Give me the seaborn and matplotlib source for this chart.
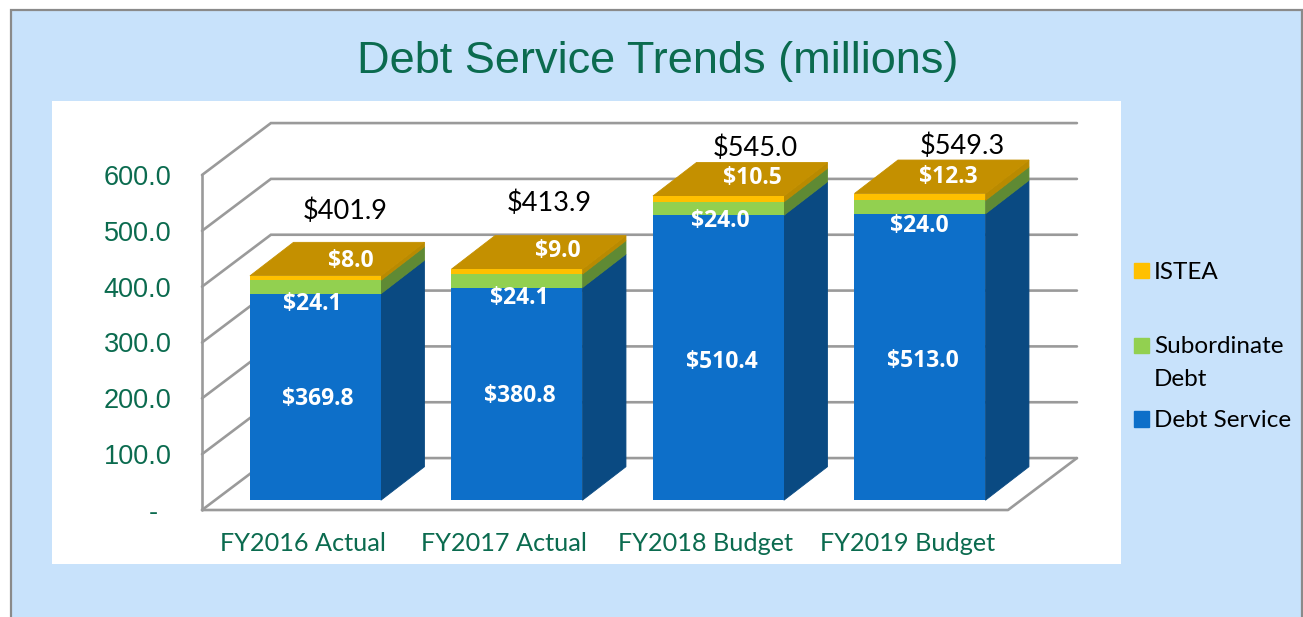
import numpy as np
import pandas as pd
import matplotlib
matplotlib.use("Agg")
import matplotlib.pyplot as plt
from matplotlib.patches import Rectangle, Polygon, Patch
from matplotlib.legend_handler import HandlerPatch
import seaborn as sns

# ---- data ----
categories = ["FY2016 Actual", "FY2017 Actual", "FY2018 Budget", "FY2019 Budget"]
debt_service = [369.8, 380.8, 510.4, 513.0]
subordinate = [24.1, 24.1, 24.0, 24.0]
istea = [8.0, 9.0, 10.5, 12.3]
totals = [401.9, 413.9, 545.0, 549.3]
y_ticks = [0, 100, 200, 300, 400, 500, 600]
y_tick_labels = ["- \u2009", "100.0", "200.0", "300.0", "400.0", "500.0", "600.0"]

# ---- styles ----
BG = "#C8E2FB"
GREEN_TXT = "#0B6B4F"
GRID = "#9A9A9A"
front_cols = ["#0D6FC9", "#92D050", "#FFC000"]
side_cols = ["#0A4A82", "#5F8A34", "#B98A00"]
top_col = "#C49000"
W, H = 1303, 617

sns.set_style("white")
plt.rcParams["font.family"] = ["Lato", "DejaVu Sans"]

fig = plt.figure(figsize=(W / 100, H / 100), dpi=100, facecolor="white")


def fx(p):
    return p / W


def fy(p):
    return 1 - p / H


# background frame and white panel
fig.add_artist(Rectangle((fx(11), fy(640)), fx(1291), (640 - 10) / H, transform=fig.transFigure,
                         facecolor=BG, edgecolor="#8A8A8A", linewidth=1.6, zorder=-5))
fig.add_artist(Rectangle((fx(52), fy(564)), fx(1069), (564 - 101) / H, transform=fig.transFigure,
                         facecolor="white", edgecolor="none", zorder=-4))

fig.text(fx(657.5), fy(62), "Debt Service Trends (millions)", ha="center", va="center",
         color=GREEN_TXT, fontsize=32.5, family=["Liberation Sans", "DejaVu Sans"])

# axes frame = front plane of the 3-D box
ax = fig.add_axes([fx(202), fy(510), (1008 - 202) / W, (510 - 175) / H])
ax.patch.set_alpha(0)
ax.set_xlim(-0.5, 3.5)
ax.set_ylim(0, 600)

# depth in data units
WALL_DX, WALL_DY = 0.342, 93.0
BAR_SHIFT_X, BAR_SHIFT_Y = 0.063, 17.5
BAR_DX, BAR_DY = 0.216, 60.0

# walls
for v in y_ticks:
    ax.plot([-0.5, -0.5 + WALL_DX, 3.5 + WALL_DX], [v, v + WALL_DY, v + WALL_DY],
            color=GRID, lw=1.9, clip_on=False, zorder=0.5, solid_joinstyle="miter")
ax.plot([-0.5, -0.5], [0, 600], color=GRID, lw=1.9, clip_on=False, zorder=0.5)
ax.plot([-0.5, 3.5, 3.5 + WALL_DX], [0, 0, WALL_DY], color=GRID, lw=1.9, clip_on=False, zorder=0.5)

# stacked front faces through seaborn
pos = np.arange(len(categories)) + BAR_SHIFT_X
series = [debt_service, subordinate, istea]
cum = np.full(len(categories), BAR_SHIFT_Y)
bottoms = []
for vals, col in zip(series, front_cols):
    vals = np.array(vals)
    df = pd.DataFrame({"x": pos, "y": vals})
    n_before = len(ax.patches)
    sns.barplot(data=df, x="x", y="y", native_scale=True, width=0.65, color=col, saturation=1,
                bottom=cum, ax=ax, errorbar=None, linewidth=0, clip_on=False)
    for p in ax.patches[n_before:]:
        p.set_clip_on(False)
        p.set_zorder(3)
    bottoms.append(cum.copy())
    cum = cum + vals

# side and top faces derived from bar patches
patches = list(ax.patches)
n = len(categories)
for s in range(3):
    for i in range(n):
        p = patches[s * n + i]
        xr = p.get_x() + p.get_width()
        b, t = p.get_y(), p.get_y() + p.get_height()
        ax.add_patch(Polygon([(xr, b), (xr + BAR_DX, b + BAR_DY), (xr + BAR_DX, t + BAR_DY), (xr, t)],
                             closed=True, facecolor=side_cols[s], edgecolor=side_cols[s], lw=0.6,
                             clip_on=False, zorder=2.5))
        if s == 2:
            xl = p.get_x()
            ax.add_patch(Polygon([(xl, t), (xr, t), (xr + BAR_DX, t + BAR_DY), (xl + BAR_DX, t + BAR_DY)],
                                 closed=True, facecolor=top_col, edgecolor=top_col, lw=0.6,
                                 clip_on=False, zorder=2.5))

# axes dressing
sns.despine(ax=ax, left=True, bottom=True, top=True, right=True)
ax.set_xlabel("")
ax.set_ylabel("")
ax.set_xticks(range(n), categories)
ax.set_yticks(y_ticks, y_tick_labels)
ax.tick_params(axis="x", length=0, pad=16, labelsize=18.2, labelcolor=GREEN_TXT)
ax.tick_params(axis="y", length=0, pad=22, labelsize=19.5, labelcolor=GREEN_TXT)
for t in ax.get_yticklabels():
    t.set_family(["Liberation Sans", "DejaVu Sans"])

# data labels: offsets in pixels
blue_off = [(2.5, -2.5), (2.5, -2.5), (3, -4.5), (2.5, -3.5)]
green_off = [(-3.5, -17), (2.5, -17), (2, -12.5), (-0.5, -18.5)]
yellow_off = [(35.5, 15), (40.5, 18), (34, 18), (28.5, 17)]
total_off = [(29.5, 65), (32.5, 66), (37, 47.5), (42.5, 47.5)]


def label(x, y, off, txt, **kw):
    ax.annotate(txt, (x, y), xytext=(off[0] * 0.72, off[1] * 0.72), textcoords="offset points",
                ha="center", va="center", annotation_clip=False, zorder=5, **kw)


for i in range(n):
    wl = dict(color="white", fontsize=16.5, fontweight="bold", family=["Open Sans", "DejaVu Sans"])
    mid_b = bottoms[0][i] + debt_service[i] / 2
    mid_g = bottoms[1][i] + subordinate[i] / 2
    top = bottoms[2][i] + istea[i]
    label(pos[i], mid_b, blue_off[i], f"${debt_service[i]:.1f}", **wl)
    label(pos[i], mid_g, green_off[i], f"${subordinate[i]:.1f}", **wl)
    label(pos[i], top, yellow_off[i], f"${istea[i]:.1f}", **wl)
    label(pos[i], top, total_off[i], f"${totals[i]:.1f}", color="black", fontsize=19.5)


# legends: swatch sits level with the first text line
def first_line_swatch(legend, orig_handle, xdescent, ydescent, width, height, fontsize):
    lift = 12.5 if "\n" in orig_handle.get_label() else 0
    return Rectangle((-xdescent, -ydescent + lift), width, height)


lkw = dict(frameon=False, fontsize=17.5, handlelength=0.62, handleheight=0.62, handletextpad=0.2,
           borderpad=0, borderaxespad=0, labelcolor="black", loc="upper left",
           handler_map={Patch: HandlerPatch(patch_func=first_line_swatch)})
leg1 = fig.legend(handles=[Patch(color=front_cols[2], label="ISTEA")],
                  bbox_to_anchor=(fx(1134), fy(262)), **lkw)
leg2 = fig.legend(handles=[Patch(color=front_cols[1], label="Subordinate\nDebt"),
                           Patch(color=front_cols[0], label="Debt Service")],
                  bbox_to_anchor=(fx(1134), fy(336)), labelspacing=0.84, **lkw)
for t in leg2.get_texts():
    t.set_linespacing(1.7)

fig.savefig("out.png", dpi=100, facecolor="white")
